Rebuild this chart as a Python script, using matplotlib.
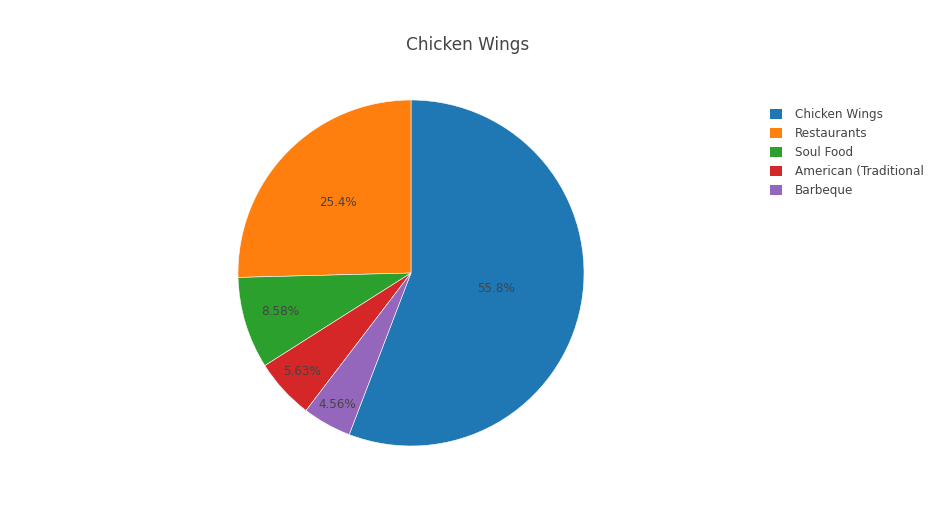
import matplotlib.pyplot as plt
from matplotlib.patches import Patch

# chart data
labels = ['Chicken Wings', 'Restaurants', 'Soul Food', 'American (Traditional', 'Barbeque']
shares = [55.8, 25.4, 8.58, 5.63, 4.56]
pct_text = ['55.8%', '25.4%', '8.58%', '5.63%', '4.56%']
colors = ['#1f77b4', '#ff7f0e', '#2ca02c', '#d62728', '#9467bd']

# where plotly put the inside labels (pie radius = 1)
text_pos = [(0.49, -0.087), (-0.42, 0.41), (-0.757, -0.225), (-0.63, -0.572), (-0.428, -0.763)]

plt.rcParams['font.family'] = ['DejaVu Sans']

W, H = 936, 525
fig = plt.figure(figsize=(W / 100, H / 100), dpi=100)

cx, cy, r = 411, 273, 173
ax = fig.add_axes([(cx - r) / W, (H - cy - r) / H, 2 * r / W, 2 * r / H])
# first slice ends at 12 o'clock, slices run counterclockwise
start = 90 - 360 * shares[0] / sum(shares)
wedges, _ = ax.pie(shares, colors=colors, startangle=start, counterclock=True,
                   radius=1, wedgeprops=dict(edgecolor='white', linewidth=0.4))
for (x, y), t in zip(text_pos, pct_text):
    ax.text(x, y, t, ha='center', va='center', fontsize=8.64, color='#444444')
ax.set_xlim(-1, 1)
ax.set_ylim(-1, 1)
ax.set_aspect('equal')
ax.axis('off')

fig.text(0.5, 1 - 45 / H, 'Chicken Wings', ha='center', va='center',
         fontsize=12.2, color='#444444')

handles = [Patch(facecolor=c, edgecolor='none') for c in colors]
leg = fig.legend(handles, labels, loc='upper left', bbox_to_anchor=(770 / W, 1 - 108 / H),
                 frameon=False, fontsize=8.64, handlelength=1.0, handleheight=1.0,
                 handletextpad=1.05, labelspacing=0.5, borderpad=0, borderaxespad=0)
for t in leg.get_texts():
    t.set_color('#444444')

plt.savefig('out.png', dpi=100)
